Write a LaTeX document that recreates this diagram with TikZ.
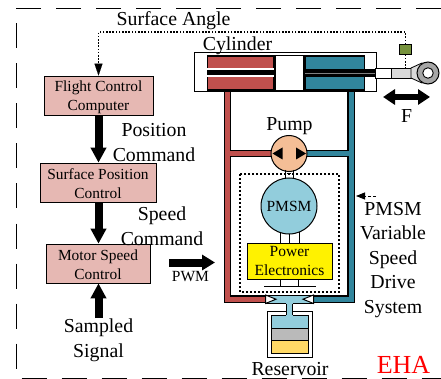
\documentclass[tikz,border=0pt]{standalone}
\usepackage{fontspec}
\setmainfont{Liberation Serif}
\usepackage{xcolor}
\usetikzlibrary{arrows.meta}

\definecolor{boxpink}{HTML}{E6B8B3}
\definecolor{pipered}{HTML}{C0504D}
\definecolor{pipeblue}{HTML}{31859C}
\definecolor{motorblue}{HTML}{92CDDC}
\definecolor{pumporange}{HTML}{F4BE96}
\definecolor{sensorgreen}{HTML}{76923C}
\definecolor{oilyellow}{HTML}{FFD966}

\newcommand{\boxstrut}{\rule{0pt}{13.5pt}}

\tikzset{
  ctrlbox/.style={rectangle, draw=black, fill=boxpink, line width=0.7pt, align=center,
                  inner sep=0pt, font=\fontsize{15.4}{19}\selectfont},
  biglabel/.style={align=center, inner sep=0pt, font=\fontsize{19.8}{24.5}\selectfont},
  fatarrow/.style={line width=8pt, -{Triangle[length=15pt,width=15pt]}},
  senseline/.style={line width=1.2pt, dash pattern=on 1.6pt off 1.6pt},
}

\begin{document}
\begin{tikzpicture}[x=1pt, y=-1pt]
\useasboundingbox (0,0) rectangle (441,379);

% outer frame
\draw[line width=1pt, dash pattern=on 25pt off 15pt] (441,8.5) -- (16,8.5) -- (16,378) -- (441,378);

% controllers
\node[ctrlbox, minimum width=109pt, minimum height=39pt] (fcc) at (98.5,95.5) {\boxstrut Flight Control\\Computer};
\node[ctrlbox, minimum width=116pt, minimum height=39pt] (spc) at (98,182.5) {\boxstrut Surface Position\\Control};
\node[ctrlbox, minimum width=104pt, minimum height=39pt] (msc) at (98,263.5) {\boxstrut Motor Speed\\Control};
\coordinate (sampled) at (98.5,318);
\coordinate (pwmstart) at (169,262.5);
\coordinate (pwmend) at (215,262.5);

\draw[fatarrow] (fcc.south -| 98.5,0) -- (spc.north -| 98.5,0);
\draw[fatarrow] (spc.south -| 98.5,0) -- (msc.north -| 98.5,0);
\draw[fatarrow] (sampled) -- (msc.south -| 98.5,0);
\draw[line width=8pt, -{Triangle[length=13pt,width=15pt]}] (pwmstart) -- (pwmend);

\node[biglabel] (surfangle) at (173.5,21) {Surface Angle};
\node[biglabel] (poscmd) at (154,142.5) {Position\\Command};
\node[biglabel] (speedcmd) at (162,226) {Speed\\Command};
\node[biglabel] (sampledtxt) at (98.5,340.5) {Sampled\\Signal};
\node[font=\fontsize{15.5}{18}\selectfont, inner sep=0pt] (pwmtxt) at (190.5,276.5) {PWM};

% pipes, black casing first
\coordinate (redtop) at (227.5,90);
\coordinate (redcorner) at (227.5,299);
\coordinate (redmid) at (227.5,153.5);
\coordinate (bluetop) at (351,90);
\coordinate (bluecorner) at (351,299);
\coordinate (bluemid) at (351,153.5);
\coordinate (valveL) at (270,299);
\coordinate (valveR) at (309,299);
\draw[line width=7.5pt, black] (redtop) -- (redcorner) -- (valveL) (redmid) -- (275,153.5);
\draw[line width=7.5pt, black] (bluetop) -- (bluecorner) -- (valveR) (bluemid) -- (303,153.5);
\draw[line width=5pt, pipered] (redtop) -- (redcorner) -- (valveL) (redmid) -- (275,153.5);
\draw[line width=5pt, pipeblue] (bluetop) -- (bluecorner) -- (valveR) (bluemid) -- (303,153.5);

% cylinder
\draw[line width=1pt, fill=white] (194.5,53) rectangle (376,92);
\draw[line width=1.2pt, fill=pipered] (207.5,56) rectangle (274,90);
\draw[line width=1.2pt, fill=pipeblue] (305,56) rectangle (364.5,90);
\fill[white] (207,68.5) rectangle (274,77);
\fill[black] (207,70.5) rectangle (274,75);
\fill[black] (305,69) rectangle (375,77);
\draw[gray, line width=0.5pt] (305,73) -- (375,73);
\draw[line width=1.6pt, fill=white] (275,55.5) rectangle (304,90.5);
\draw[line width=0.8pt, fill=white] (375,68) rectangle (391,78);
\draw[line width=0.8pt, fill=black!15] (391,68) rectangle (411,78);
\draw[line width=0.8pt, fill=black!15] (411,68) -- (422,63) -- (422,83) -- (411,78) -- cycle;
\node[circle, draw=black, line width=1pt, fill=black!35, minimum size=22pt, inner sep=0pt] (eye) at (428,73) {};
\node[circle, draw=black, line width=0.9pt, fill=white, minimum size=10.5pt, inner sep=0pt] (eyehole) at (428,73) {};
\node[biglabel] (cyltxt) at (237.5,45.5) {Cylinder};

% force arrow
\coordinate (forceL) at (383,97);
\coordinate (forceR) at (430,97);
\draw[line width=6.5pt, {Triangle[length=12pt,width=15pt]}-{Triangle[length=12pt,width=15pt]}] (forceL) -- (forceR);
\node[biglabel] (ftxt) at (406.5,116) {F};

% position sensor and its line back to the computer
\node[rectangle, draw=black, fill=sensorgreen, line width=0.7pt, minimum width=12pt, minimum height=9.5pt, inner sep=0pt] (sensor) at (405.5,49.5) {};
\coordinate (rodpoint) at (405.5,68);
\draw[senseline] (sensor.south) -- (rodpoint);
\draw[senseline] (sensor.north) -- (405.5,32) -- (98.5,32) -- (98.5,66);
\draw[-{Triangle[length=12pt,width=8pt]}, line width=0.1pt, fill=black] (98.5,64) -- (fcc.north -| 98.5,0);

% drive system
\draw[line width=1.2pt, dash pattern=on 2pt off 2pt] (240,174) rectangle (339,292);
\node[circle, draw=black, line width=1pt, fill=pumporange, minimum size=36pt, inner sep=0pt] (pump) at (289,153.5) {};
\fill (272.5,153.5) -- (282.5,147.5) -- (282.5,159.5) -- cycle;
\fill (306,153.5) -- (296,147.5) -- (296,159.5) -- cycle;
\node[biglabel] (pumptxt) at (289.5,126) {Pump};
\node[circle, draw=black, line width=1pt, fill=motorblue, minimum size=56pt, inner sep=0pt, font=\fontsize{15.5}{18}\selectfont] (pmsm) at (289,206) {PMSM};
\node[rectangle, draw=black, fill=yellow, line width=1pt, minimum width=85pt, minimum height=36pt, inner sep=0pt, align=center, font=\fontsize{15.5}{18.5}\selectfont] (power) at (289.5,261) {Power\\Electronics};
\draw[line width=0.7pt] (285,170) -- (285,179) (293,170) -- (293,179);
\draw[line width=0.7pt, densely dotted] (285,173) -- (293,173);
\draw[line width=0.7pt] (280,232) -- (280,243) (289,234) -- (289,243) (299,232) -- (299,243);
\draw[line width=0.7pt] (280.5,279) -- (280.5,286) (298.5,279) -- (298.5,286);
\draw[line width=0.9pt] (264,286) -- (316,286);

% reservoir
\draw[line width=1pt, fill=motorblue] (266,295) rectangle (313,303.5);
\draw[line width=1pt, fill=white] (267,311) rectangle (312.5,357.5);
\draw[line width=1pt, fill=motorblue] (271.5,315) rectangle (308,328.5);
\draw[line width=1pt, fill=black!27] (271.5,328.5) rectangle (308,340.5);
\draw[line width=1pt, fill=oilyellow] (271.5,340.5) rectangle (308,353);
\fill[motorblue] (286,303) rectangle (292.5,316);
\draw[line width=1pt] (286,303.5) -- (286,315) (292.5,303.5) -- (292.5,315);
\draw[line width=1pt, fill=white] (265.5,295) -- (276,299.2) -- (265.5,303.5) -- cycle;
\draw[line width=1pt, fill=white] (313.5,295) -- (303,299.2) -- (313.5,303.5) -- cycle;
\node[biglabel] (restxt) at (290,369.5) {Reservoir};
\node[font=\fontsize{26}{30}\selectfont, text=red, inner sep=0pt] (ehatxt) at (403.5,365) {EHA};

% label for the drive system
\coordinate (drivetail) at (376,196);
\draw[densely dashed, line width=0.8pt, -{Triangle[length=9pt,width=7pt]}] (drivetail) -- (356,196);
\node[biglabel] (drivetxt) at (393,260) {PMSM\\Variable\\Speed\\Drive\\System};
\end{tikzpicture}
\end{document}
